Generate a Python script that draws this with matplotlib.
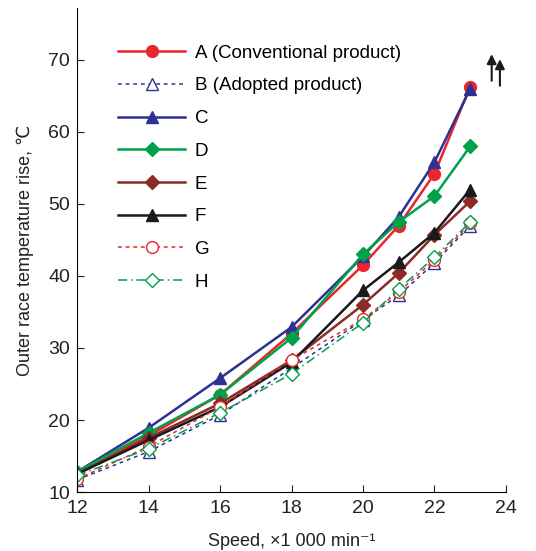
import matplotlib.pyplot as plt

plt.rcParams['font.family'] = ['Liberation Sans', 'DejaVu Sans']

speed = [12, 14, 16, 18, 20, 21, 22, 23]

temp_a = [12.7, 17.8, 23.5, 32.0, 41.5, 47.0, 54.2, 66.3]
temp_b = [11.7, 15.6, 20.7, 27.2, 33.9, 37.3, 41.8, 47.0]
temp_c = [12.8, 18.9, 25.8, 32.9, 42.7, 48.2, 55.8, 66.0]
temp_d = [12.8, 18.2, 23.5, 31.4, 43.0, 47.5, 51.1, 58.0]
temp_e = [12.5, 17.5, 22.3, 28.3, 36.0, 40.4, 45.7, 50.4]
temp_f = [12.5, 17.2, 21.8, 28.0, 38.0, 41.9, 46.0, 52.0]
temp_g = [11.8, 16.3, 21.8, 28.3, 34.0, 37.8, 42.2, 47.3]
temp_h = [12.3, 16.0, 21.0, 26.4, 33.5, 38.2, 42.6, 47.5]

labels = ['A (Conventional product)', 'B (Adopted product)', 'C', 'D', 'E', 'F', 'G', 'H']

# arrows marking off-scale values at 23 000 min^-1
arrow_x = [23.6, 23.83]
arrow_y0 = [67.1, 66.4]
arrow_y1 = [70.8, 70.1]

red = '#e8262d'
blue = '#2e3192'
green = '#00a14b'
brown = '#8c2a26'
black = '#1a1a1a'

styles = [
    dict(color=red, ls='-', lw=1.8, marker='o', ms=8.5, mfc=red),
    dict(color=blue, ls=(0, (2.5, 2.5)), lw=1.1, marker='^', ms=8.5, mfc='white'),
    dict(color=blue, ls='-', lw=1.8, marker='^', ms=9, mfc=blue),
    dict(color=green, ls='-', lw=1.8, marker='D', ms=7, mfc=green),
    dict(color=brown, ls='-', lw=1.8, marker='D', ms=7, mfc=brown),
    dict(color=black, ls='-', lw=1.8, marker='^', ms=9, mfc=black),
    dict(color=red, ls=(0, (2.5, 2.5)), lw=1.1, marker='o', ms=8.5, mfc='white'),
    dict(color=green, ls=(0, (6, 2.5, 1, 2.5)), lw=1.1, marker='D', ms=7, mfc='white'),
]

series = [temp_a, temp_b, temp_c, temp_d, temp_e, temp_f, temp_g, temp_h]

fig = plt.figure(figsize=(5.36, 5.51), dpi=100)
ax = fig.add_axes([0.1437, 0.107, 0.8003, 0.8785])

for vals, lab, st in zip(series, labels, styles):
    ax.plot(speed, vals, label=lab, mew=1.0, **st)

for x, y0, y1 in zip(arrow_x, arrow_y0, arrow_y1):
    ax.annotate('', xy=(x, y1), xytext=(x, y0),
                arrowprops=dict(arrowstyle='-|>', color=black, lw=1.5,
                                mutation_scale=14, shrinkA=0, shrinkB=0))

ax.set_xlim(12, 24)
ax.set_ylim(10, 77.2)
ax.set_xticks(range(12, 25, 2))
ax.set_yticks(range(10, 71, 10))
ax.spines['top'].set_visible(False)
ax.spines['right'].set_visible(False)
ax.tick_params(direction='in', length=5, labelsize=14, colors='#222222')
ax.tick_params(axis='x', pad=6)
ax.tick_params(axis='y', pad=5)

ax.set_xlabel('Speed, \u00d71 000 min\u207b\u00b9', fontsize=13, color='#222222', labelpad=11)
ax.set_ylabel('Outer race temperature rise, \u2103', fontsize=13, color='#222222', labelpad=10)

ax.legend(loc='upper left', bbox_to_anchor=(0.22, 0.919), bbox_transform=fig.transFigure,
          frameon=False, fontsize=13.5, handlelength=3.6, labelspacing=0.83,
          handletextpad=0.5, borderpad=0, borderaxespad=0)

fig.savefig('out.png', dpi=100)
